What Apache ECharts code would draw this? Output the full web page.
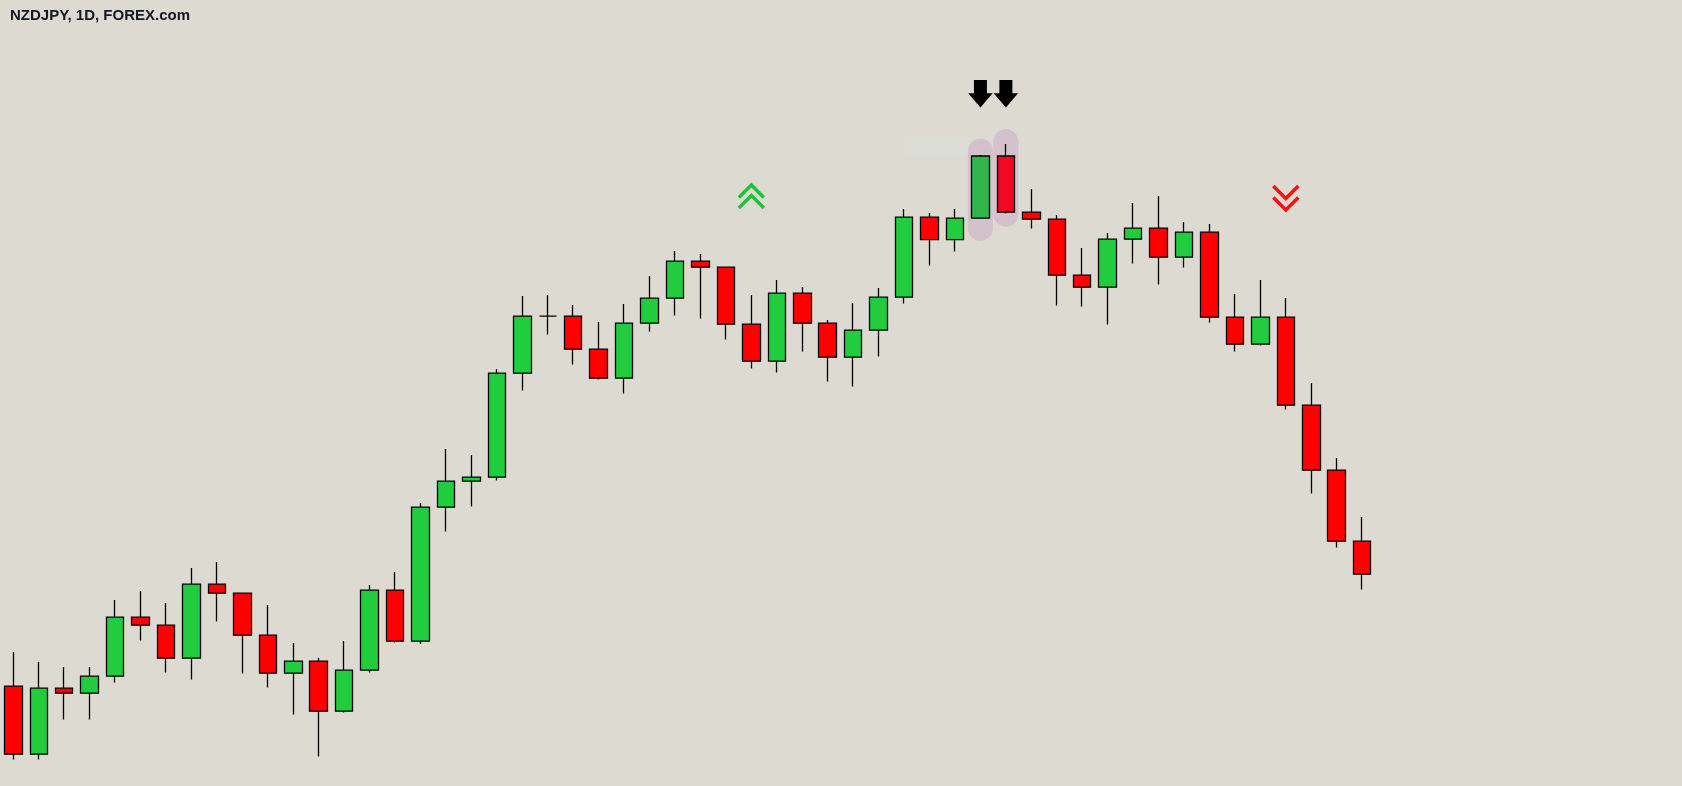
<!DOCTYPE html>
<html>
<head>
<meta charset="utf-8">
<script src="https://cdn.jsdelivr.net/npm/echarts@6/dist/echarts.min.js"></script>
<style>
html,body{margin:0;padding:0;background:#dddad2;}
#chart{width:1682px;height:786px;}
</style>
</head>
<body>
<div id="chart"></div>
<script>
// ---- data ----
const title = 'NZDJPY, 1D, FOREX.com';
const days = ['D1','D2','D3','D4','D5','D6','D7','D8','D9','D10','D11','D12','D13','D14','D15','D16','D17','D18',
  'D19','D20','D21','D22','D23','D24','D25','D26','D27','D28','D29','D30','D31','D32','D33','D34','D35','D36',
  'D37','D38','D39','D40','D41','D42','D43','D44','D45','D46','D47','D48','D49','D50','D51','D52','D53','D54'];
const opens  = [88.569,88.229,88.559,88.534,88.619,88.914,88.874,88.709,89.079,89.034,88.824,88.634,88.694,88.444,88.649,89.049,88.794,89.464,
  89.594,89.614,90.134,90.419,90.419,90.254,90.109,90.384,90.509,90.694,90.664,90.379,90.194,90.534,90.384,90.214,90.349,90.514,
  90.914,90.802,90.909,91.220,90.939,90.904,90.624,90.564,90.804,90.859,90.714,90.839,90.414,90.279,90.414,89.974,89.649,89.294];
const closes = [88.229,88.559,88.534,88.619,88.914,88.874,88.709,89.079,89.034,88.824,88.634,88.694,88.444,88.649,89.049,88.794,89.464,89.594,
  89.614,90.134,90.419,90.419,90.254,90.109,90.384,90.509,90.694,90.664,90.379,90.194,90.534,90.384,90.214,90.349,90.514,90.914,
  90.802,90.909,91.220,90.939,90.904,90.624,90.564,90.804,90.859,90.714,90.839,90.414,90.279,90.414,89.974,89.649,89.294,89.129];
const lows   = [88.202,88.202,88.402,88.402,88.587,88.797,88.637,88.602,88.892,88.632,88.562,88.427,88.217,88.437,88.637,88.787,88.780,89.342,
  89.467,89.597,90.047,90.327,90.177,90.102,90.032,90.342,90.422,90.407,90.302,90.157,90.137,90.242,90.092,90.067,90.217,90.482,
  90.672,90.742,90.909,90.932,90.857,90.472,90.467,90.377,90.682,90.577,90.662,90.387,90.242,90.272,89.952,89.532,89.262,89.052];
const highs  = [88.740,88.690,88.665,88.665,89.000,89.045,88.985,89.160,89.190,89.034,88.975,88.785,88.710,88.795,89.075,89.140,89.485,89.755,
  89.725,90.154,90.520,90.525,90.475,90.390,90.480,90.620,90.745,90.730,90.664,90.525,90.600,90.565,90.400,90.485,90.560,90.955,
  90.935,90.955,91.225,91.280,91.055,90.925,90.760,90.835,90.985,91.020,90.890,90.880,90.530,90.600,90.510,90.085,89.710,89.415];
// highlighted candles: [index, top price, bottom price]
const highlights = [[38, 91.308, 90.795], [39, 91.355, 90.867]];
// black down arrows: [index, tip price]
const arrows = [[38, 91.462], [39, 91.462]];
// double chevrons: [index, apex price]
const chevronsUp = [[29, 91.075]];
const chevronsDown = [[50, 90.950]];
// faint label box: [from index, to index, top price, bottom price]
const faintBoxes = [[35, 37.59, 91.315, 91.225]];

// ---- build ----
const PAD = 12;
const cats = days.concat(Array.from({length: PAD}, (_, i) => ' ' + i));
const highlightIdx = highlights.map(h => h[0]);
const candleData = days.map((d, i) => {
  const v = [opens[i], closes[i], lows[i], highs[i]];
  if (highlightIdx.indexOf(i) >= 0) {
    const c = closes[i] >= opens[i] ? '#32b44c' : '#ee0a22';
    return {value: v, itemStyle: {color: c, color0: c}};
  }
  return v;
});

const chart = echarts.init(document.getElementById('chart'), null, {renderer: 'canvas'});
chart.setOption({
  animation: false,
  backgroundColor: '#dddad2',
  grid: {left: 0.6, right: 1.7, top: 0, bottom: 0, containLabel: false},
  xAxis: {type: 'category', data: cats, boundaryGap: true, show: false},
  yAxis: {type: 'value', min: 88.07, max: 92, show: false, scale: true},
  graphic: [{
    type: 'text', x: 10, y: 15.8,
    style: {text: title, fill: '#131722', font: 'bold 15px "Liberation Sans", Arial, sans-serif',
      verticalAlign: 'middle', align: 'left'}
  }],
  series: [
    {
      type: 'custom', z: 1, silent: true,
      data: faintBoxes,
      renderItem: function (params, api) {
        const a = api.coord([api.value(0), api.value(2)]);
        const b = api.coord([api.value(1), api.value(3)]);
        return {type: 'rect', shape: {x: a[0], y: a[1], width: b[0] - a[0], height: b[1] - a[1]},
          style: {fill: '#dbddd4'}};
      }
    },
    {
      type: 'custom', z: 1, silent: true,
      data: highlights,
      renderItem: function (params, api) {
        const t = api.coord([api.value(0), api.value(1)]);
        const b = api.coord([api.value(0), api.value(2)]);
        return {type: 'rect', shape: {x: t[0] - 12.5, y: t[1], width: 25, height: b[1] - t[1], r: 12.5},
          style: {fill: '#d3c2cc'}};
      }
    },
    {
      type: 'candlestick', z: 3,
      data: candleData,
      barWidth: 18,
      itemStyle: {color: '#21cc3d', color0: '#ff0000', borderColor: '#000', borderColor0: '#000',
        borderColorDoji: '#000', borderWidth: 1.3},
      emphasis: {disabled: true},
      silent: true
    },
    {
      type: 'custom', z: 4, silent: true,
      data: arrows,
      renderItem: function (params, api) {
        const p = api.coord([api.value(0), api.value(1)]);
        const x = p[0], y = p[1];
        return {type: 'polygon', shape: {points: [
          [x - 6.5, y - 27.7], [x + 6.5, y - 27.7], [x + 6.5, y - 14.4], [x + 12.2, y - 14.4],
          [x, y], [x - 12.2, y - 14.4], [x - 6.5, y - 14.4]]},
          style: {fill: '#000'}};
      }
    },
    {
      type: 'custom', z: 4, silent: true,
      data: chevronsUp,
      renderItem: function (params, api) {
        const p = api.coord([api.value(0), api.value(1)]);
        const x = p[0], y = p[1];
        const mk = (dy) => ({type: 'polyline', shape: {points: [[x - 12.5, y + dy + 12.5], [x, y + dy], [x + 12.5, y + dy + 12.5]]},
          style: {stroke: '#1cc23a', lineWidth: 3.5, fill: null}});
        return {type: 'group', children: [mk(0), mk(10.5)]};
      }
    },
    {
      type: 'custom', z: 4, silent: true,
      data: chevronsDown,
      renderItem: function (params, api) {
        const p = api.coord([api.value(0), api.value(1)]);
        const x = p[0], y = p[1];
        const mk = (dy) => ({type: 'polyline', shape: {points: [[x - 12.5, y - dy - 12.5], [x, y - dy], [x + 12.5, y - dy - 12.5]]},
          style: {stroke: '#f81212', lineWidth: 3.5, fill: null}});
        return {type: 'group', children: [mk(0), mk(11.5)]};
      }
    }
  ]
});
</script>
</body>
</html>
